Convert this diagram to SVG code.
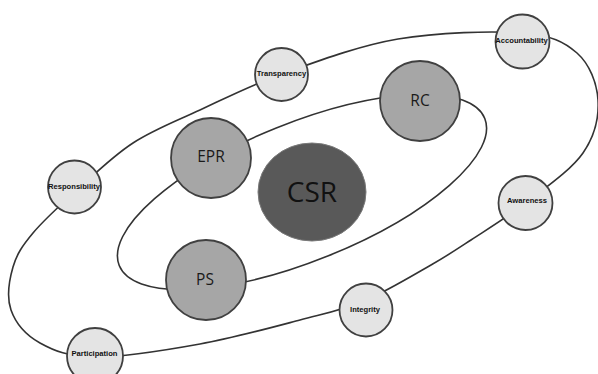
<svg xmlns="http://www.w3.org/2000/svg" width="598" height="374" viewBox="0 0 598 374">
<style>
.loop{fill:none;stroke:#333333;stroke-width:1.6}
.small{fill:#e4e4e4;stroke:#404040;stroke-width:1.8}
.mid{fill:#a6a6a6;stroke:#404040;stroke-width:1.8}
.core{fill:#595959;stroke:#7a7a7a;stroke-width:1}
.sl{font-family:"Liberation Sans",Arial,sans-serif;font-weight:bold;font-size:7.6px;fill:#111;text-anchor:middle;dominant-baseline:central}
.ml{font-family:"Open Sans","Liberation Sans",sans-serif;font-size:15.5px;fill:#1a1a1a;text-anchor:middle;dominant-baseline:central}
.cl{font-family:"Open Sans","Liberation Sans",sans-serif;font-size:28px;fill:#111;text-anchor:middle;dominant-baseline:central}
</style>
<rect width="598" height="374" fill="#ffffff"/>
<g id="connectors">
<path class="loop" d="M95 357 C68.3 356.8 54 350.8 40 343 C26 335.2 15.5 322.7 11 310 C6.5 297.3 9.3 279.8 13 267 C16.7 254.2 22.3 245.8 33 233 C43.7 220.2 60.3 205 77 190 C93.7 175 112.5 156.3 133 143 C153.5 129.7 175.2 121.5 200 110 C224.8 98.5 249 85.8 282 74 C315 62.2 358 45.8 398 39 C438 32.2 492.2 30.7 522 33 C551.8 35.3 564.3 41.8 577 53 C589.7 64.2 597 83.3 598 100 C599 116.7 594.8 136 583 153 C571.2 170 545.7 187.5 527 202 C508.3 216.5 487 229.5 471 240 C455 250.5 448.8 254.8 431 265 C413.2 275.2 385.8 291.8 364 301 C342.2 310.2 327.3 312.8 300 320 C272.7 327.2 234.2 337.8 200 344 C165.8 350.2 121.7 357.2 95 357 Z"/>
<ellipse class="loop" cx="302" cy="192" rx="197" ry="69" transform="rotate(-21.9 302 192)"/>
</g>
<g id="csr"><ellipse class="core" cx="312" cy="192" rx="54" ry="49"/><text class="cl" x="312" y="191">CSR</text></g>
<g id="epr"><circle class="mid" cx="211" cy="158" r="40"/><text class="ml" x="211" y="156">EPR</text></g>
<g id="rc"><circle class="mid" cx="420" cy="101" r="40"/><text class="ml" x="420" y="100">RC</text></g>
<g id="ps"><circle class="mid" cx="206" cy="280" r="40"/><text class="ml" x="205" y="279">PS</text></g>
<g id="transparency"><circle class="small" cx="281.5" cy="74.5" r="26.5"/><text class="sl" x="281.5" y="73">Transparency</text></g>
<g id="accountability"><circle class="small" cx="522.5" cy="41.5" r="27"/><text class="sl" x="521.5" y="40.5">Accountability</text></g>
<g id="responsibility"><circle class="small" cx="74.5" cy="187" r="26.5"/><text class="sl" x="74" y="186">Responsibility</text></g>
<g id="awareness"><circle class="small" cx="525.5" cy="203" r="27"/><text class="sl" x="527" y="200">Awareness</text></g>
<g id="integrity"><circle class="small" cx="366" cy="310" r="26.5"/><text class="sl" x="365" y="309">Integrity</text></g>
<g id="participation"><circle class="small" cx="95" cy="356" r="28"/><text class="sl" x="94.5" y="353">Participation</text></g>
</svg>
